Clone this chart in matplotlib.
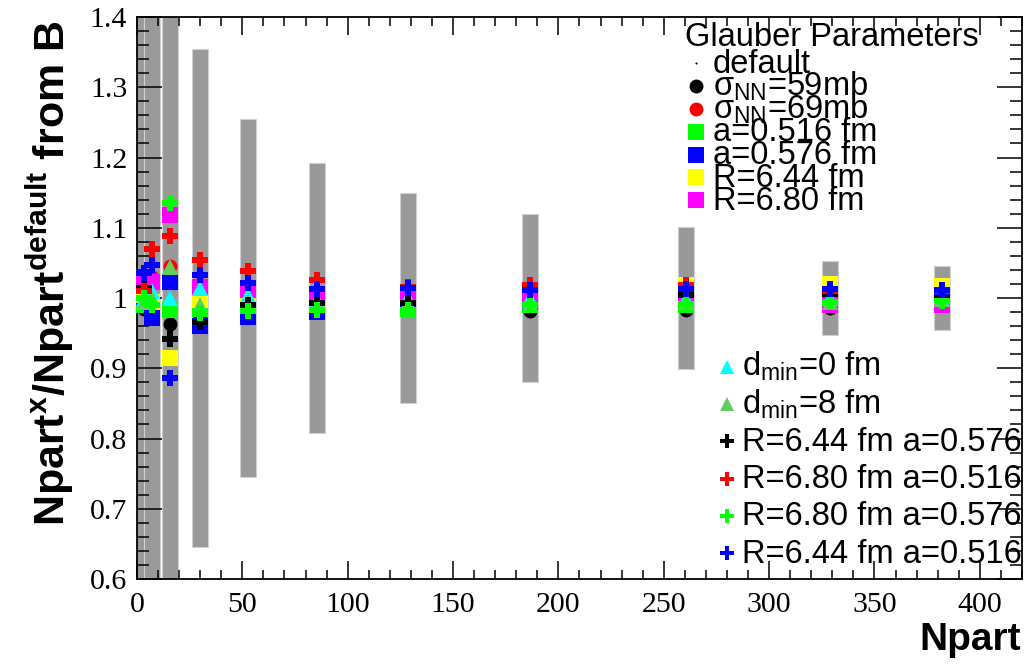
"""
Npart ratio to default Glauber settings, with systematic band from B.
"""

import matplotlib
matplotlib.use("Agg")
import matplotlib.pyplot as plt
from matplotlib.ticker import MultipleLocator, FormatStrFormatter

plt.rcParams["font.family"] = "Liberation Sans"
plt.rcParams["mathtext.fontset"] = "custom"
plt.rcParams["mathtext.rm"] = "Liberation Sans"
plt.rcParams["mathtext.it"] = "Liberation Sans:italic"
plt.rcParams["mathtext.bf"] = "Liberation Sans:bold"

# ── Data ──────────────────────────────────────────────────────────────────────

npart = [3.2, 7.0, 15.6, 30.0, 52.5, 85.5, 128.5, 186.5, 260.5, 329.0, 382.0]
band_err = [0.60, 0.60, 0.60, 0.354, 0.255, 0.192, 0.149, 0.120, 0.101, 0.053, 0.046]

r_default   = [1.0] * len(npart)
r_sig59     = [0.985, 0.983, 0.963, 0.975, 0.990, 0.993, 0.993, 0.982, 0.983, 0.986, 0.990]
r_sig69     = [1.020, 1.030, 1.045, 1.020, 1.010, 1.005, 1.005, 1.000, 0.998, 1.000, 1.003]
r_a516      = [0.990, 0.985, 0.983, 0.985, 0.985, 0.985, 0.985, 0.990, 0.990, 0.995, 0.996]
r_a576      = [1.000, 0.972, 1.023, 0.960, 0.973, 0.980, 0.990, 0.995, 1.000, 1.000, 1.000]
r_R644      = [1.004, 0.995, 0.915, 0.997, 0.996, 0.997, 1.000, 1.005, 1.018, 1.020, 1.017]
r_R680      = [1.025, 1.023, 1.118, 1.016, 1.011, 1.004, 1.006, 1.005, 1.005, 0.990, 0.990]
r_dmin0     = [1.000, 1.010, 1.000, 1.014, 1.004, 0.997, 1.000, 1.000, 1.000, 1.000, 1.000]
r_dmin8     = [0.995, 1.000, 1.044, 0.990, 0.995, 0.995, 0.995, 0.995, 0.995, 0.995, 0.998]
r_R644a576  = [1.014, 0.990, 0.942, 0.966, 0.990, 0.993, 0.993, 0.990, 1.004, 1.006, 1.000]
r_R680a516  = [1.010, 1.070, 1.088, 1.054, 1.039, 1.025, 1.015, 1.019, 1.019, 1.010, 1.010]
r_R680a576  = [1.000, 0.990, 1.135, 0.979, 0.982, 0.983, 0.983, 0.990, 0.991, 0.995, 0.996]
r_R644a516  = [1.035, 1.047, 0.886, 1.033, 1.021, 1.013, 1.014, 1.011, 1.013, 1.013, 1.011]

# (values, marker, colour, size, label, legend)
SERIES = [
    (r_default,  "o", "black",   1.5,  "default",                  0),
    (r_sig59,    "o", "black",   10.0, "σ$_{\\mathrm{NN}}$=59mb",  0),
    (r_sig69,    "o", "#ff0000", 10.0, "σ$_{\\mathrm{NN}}$=69mb",  0),
    (r_a516,     "s", "#00ff00", 11.0, "a=0.516 fm",               0),
    (r_a576,     "s", "#0000ff", 11.0, "a=0.576 fm",               0),
    (r_R644,     "s", "#ffff00", 11.0, "R=6.44 fm",                0),
    (r_R680,     "s", "#ff00ff", 11.0, "R=6.80 fm",                0),
    (r_dmin0,    "^", "#00ffff", 11.5, "d$_{\\mathrm{min}}$=0 fm", 1),
    (r_dmin8,    "^", "#5fcf5f", 11.5, "d$_{\\mathrm{min}}$=8 fm", 1),
    (r_R644a576, "P", "black",   12.0, "R=6.44 fm a=0.576",        1),
    (r_R680a516, "P", "#ff0000", 12.0, "R=6.80 fm a=0.516",        1),
    (r_R680a576, "P", "#00ff00", 12.0, "R=6.80 fm a=0.576",        1),
    (r_R644a516, "P", "#0000ff", 12.0, "R=6.44 fm a=0.516",        1),
]

# legend slots in axes fraction: (marker x, text x, first y, step, font size)
LEG_SLOTS = {
    0: (0.6316, 0.651, 0.918, 0.0407, 23.5),
    1: (0.6667, 0.6836, 0.378, 0.0664, 23.5),
}

# ── Figure ────────────────────────────────────────────────────────────────────

fig = plt.figure(figsize=(10.29, 6.64), dpi=100)
ax = fig.add_axes([0.1331, 0.128, 0.8601, 0.8464])

ax.bar(npart, [2 * e for e in band_err], bottom=[1 - e for e in band_err],
       width=7.6, color="#999999", edgecolor="#d0d0d0", linewidth=0.8,
       zorder=1)

counters = {0: 0, 1: 0}
for vals, mk, col, ms, label, leg in SERIES:
    ax.plot(npart, vals, linestyle="none", marker=mk, color=col,
            markersize=ms, markeredgewidth=0, zorder=3, clip_on=False)
    mx, tx, y0, step, fs = LEG_SLOTS[leg]
    y = y0 - counters[leg] * step
    counters[leg] += 1
    lms = ms if leg == 0 else ms * 0.85
    ax.plot([mx], [y], linestyle="none", marker=mk, color=col,
            markersize=lms, markeredgewidth=0, transform=ax.transAxes,
            clip_on=False, zorder=5)
    ax.text(tx, y - 9.5 / 562, label, transform=ax.transAxes,
            fontsize=fs, ha="left", va="baseline", zorder=5)

ax.text(0.619, 0.963, "Glauber Parameters", transform=ax.transAxes,
        fontsize=23.5, ha="left", va="center", zorder=5)

ax.set_xlim(0, 420)
ax.set_ylim(0.6, 1.4)
ax.xaxis.set_major_locator(MultipleLocator(50))
ax.xaxis.set_minor_locator(MultipleLocator(10))
ax.yaxis.set_major_locator(MultipleLocator(0.1))
ax.yaxis.set_minor_locator(MultipleLocator(0.02))
ax.yaxis.set_major_formatter(FormatStrFormatter("%g"))

ax.tick_params(which="both", direction="in", top=True, right=True,
               width=1.1, colors="black")
ax.tick_params(axis="x", which="major", length=13, pad=9)
ax.tick_params(axis="x", which="minor", length=6.5)
ax.tick_params(axis="y", which="major", length=18, pad=7)
ax.tick_params(axis="y", which="minor", length=8.6)
for lab in ax.get_xticklabels() + ax.get_yticklabels():
    lab.set_fontfamily("Liberation Serif")
    lab.set_fontsize(21.5)
for sp in ax.spines.values():
    sp.set_linewidth(1.3)

fig.text(1021 / 1029, 1 - 640 / 664, "Npart", fontsize=28, fontweight="bold",
         ha="right", va="center")
fig.text(50 / 1029, 1 - 20 / 664,
         r"Npart$^{\mathbf{x}}$/Npart$^{\mathbf{default}}$ from B",
         fontsize=31, fontweight="bold", rotation=90, ha="center", va="top")

fig.savefig("out.png", dpi=100)
